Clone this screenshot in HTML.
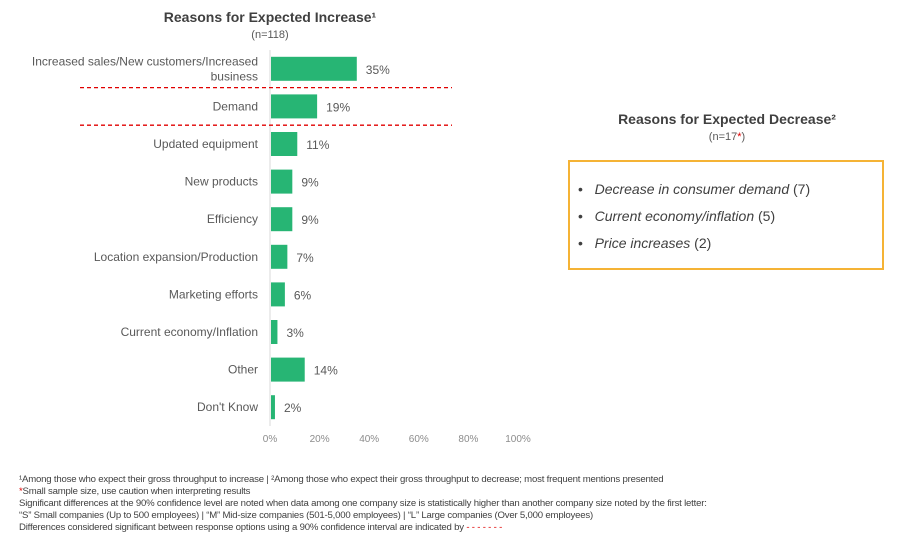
<!DOCTYPE html>
<html><head><meta charset="utf-8"><style>
body{margin:0;width:900px;height:550px;background:#fff;font-family:"Liberation Sans",sans-serif;color:#595959;position:relative;overflow:hidden}
.abs{position:absolute}
.fn{position:absolute;left:19px;font-size:9.6px;color:#404040;white-space:nowrap;letter-spacing:-0.2px}
</style></head><body>
<div class="abs" style="left:100px;top:9px;width:340px;text-align:center;font-size:14px;font-weight:bold;color:#404040">Reasons for Expected Increase¹</div>
<div class="abs" style="left:200px;top:29px;width:140px;text-align:center;font-size:11px">(n=118)</div>
<svg class="abs" style="left:0;top:0" width="900" height="460">
<g id="g"></g>
</svg>
<div class="abs" style="left:560px;top:111px;width:334px;text-align:center;font-size:14px;font-weight:bold;color:#404040">Reasons for Expected Decrease²</div>
<div class="abs" style="left:640px;top:131px;width:174px;text-align:center;font-size:11px">(n=17<span style="color:#e00000">*</span>)</div>
<div class="abs" style="left:568px;top:160px;width:312px;height:106px;border:2px solid #F5B335;font-size:14px;color:#404040">
<div style="position:absolute;left:8px;top:19px">•&nbsp;&nbsp;&nbsp;<i>Decrease in consumer demand</i> (7)</div>
<div style="position:absolute;left:8px;top:46px">•&nbsp;&nbsp;&nbsp;<i>Current economy/inflation</i> (5)</div>
<div style="position:absolute;left:8px;top:73px">•&nbsp;&nbsp;&nbsp;<i>Price increases</i> (2)</div>
</div>
<div class="fn" style="top:474px">¹Among those who expect their gross throughput to increase | ²Among those who expect their gross throughput to decrease; most frequent mentions presented</div>
<div class="fn" style="top:486px"><span style="color:#e00000">*</span>Small sample size, use caution when interpreting results</div>
<div class="fn" style="top:498px">Significant differences at the 90% confidence level are noted when data among one company size is statistically higher than another company size noted by the first letter:</div>
<div class="fn" style="top:510px">“S” Small companies (Up to 500 employees) | “M” Mid-size companies (501-5,000 employees) | “L” Large companies (Over 5,000 employees)</div>
<div class="fn" style="top:522px">Differences considered significant between response options using a 90% confidence interval are indicated by <span style="color:#e00000">- - - - - - -</span></div>
<script>
const categories=[["Increased sales/New customers/Increased","business"],["Demand"],["Updated equipment"],["New products"],["Efficiency"],["Location expansion/Production"],["Marketing efforts"],["Current economy/Inflation"],["Other"],["Don't Know"]];
const values=[35,19,11,9,9,7,6,3,14,2];
const ticks=[0,20,40,60,80,100];
const sigLines=[0.5,1.5];
const NS="http://www.w3.org/2000/svg";
const g=document.getElementById('g');
const x=v=>270+v*2.48;
const y0=50,step=37.6;
const yc=i=>y0+step*(i+0.5);
function mk(t,a){const e=document.createElementNS(NS,t);for(const k in a)e.setAttribute(k,a[k]);g.appendChild(e);return e;}
const ax=mk('line',{x1:270,y1:y0,x2:270,y2:y0+step*categories.length,stroke:'#d9d9d9','stroke-width':1});


categories.forEach((c,i)=>{
 const b=mk('rect',{x:x(0)+1,y:yc(i)-12,width:Math.max(0,x(values[i])-x(0)-1),height:24,fill:'#27B574'});
 
 
 const t=mk('text',{x:258,y:yc(i)+4-(c.length-1)*7.5,'text-anchor':'end','font-size':12,fill:'#595959'});
 
 
 c.forEach((ln,j)=>{const s=document.createElementNS(NS,'tspan');s.setAttribute('x',258);s.setAttribute('dy',j?15:0);s.textContent=ln;t.appendChild(s);});
 const v=mk('text',{x:x(values[i])+9,y:yc(i)+5,'font-size':12,fill:'#595959'});
 
 
 v.textContent=values[i]+'%';
});
sigLines.forEach(p=>{
 const l=mk('line',{x1:80,x2:452,y1:y0+step*(p+0.5),y2:y0+step*(p+0.5),stroke:'#e00000','stroke-width':1.3,'stroke-dasharray':'4,3'});
 
 
});
ticks.forEach(tv=>{
 const t=mk('text',{x:x(tv),y:442,'text-anchor':'middle','font-size':10,fill:'#8c8c8c'});
 
 
 t.textContent=tv+'%';
});
</script>
</body></html>
